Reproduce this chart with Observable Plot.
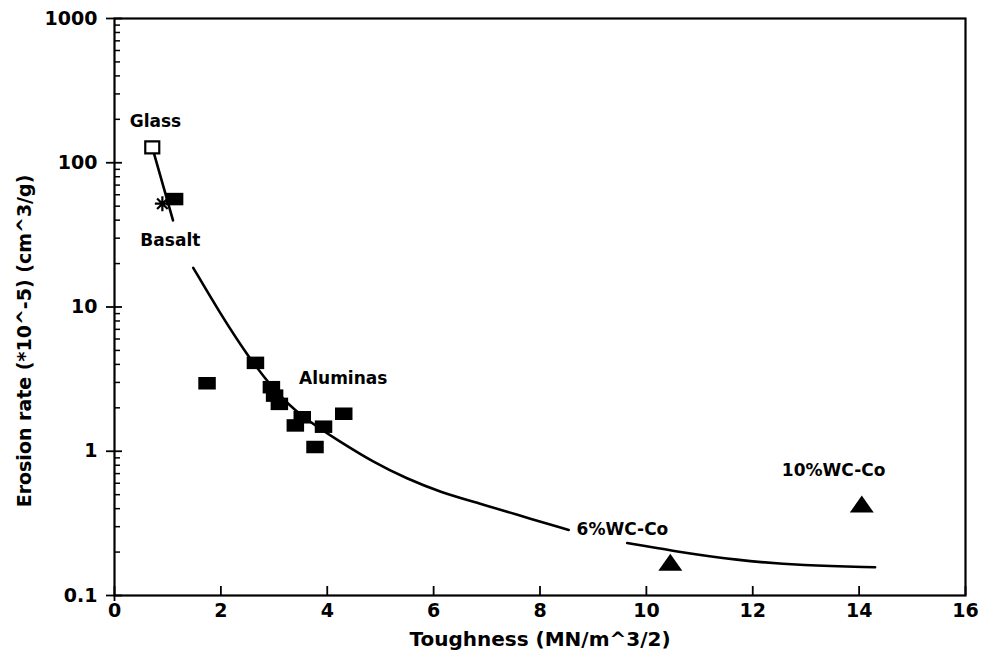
<!DOCTYPE html>
<html>
<head>
<meta charset="utf-8">
<script src="https://cdn.jsdelivr.net/npm/d3@7"></script>
<script src="https://cdn.jsdelivr.net/npm/@observablehq/plot@0.6"></script>
<style>
  html, body { margin: 0; padding: 0; background: #fff; }
</style>
</head>
<body>
<div id="chart"></div>
<script>
// ---- data ----
const glassX = [0.71];
const glassY = [128];
const basaltX = [0.90];
const basaltY = [52];
const filledX = [1.13, 1.74, 2.65, 2.95, 3.01, 3.10, 3.53, 3.40, 3.93, 4.31, 3.77];
const filledY = [56, 2.96, 4.1, 2.78, 2.43, 2.13, 1.72, 1.51, 1.48, 1.82, 1.07];
const wcX = [10.45, 14.05];
const wcY = [0.17, 0.43];

const curveX = [0.71, 1.10,
                1.48, 1.99, 2.52, 3.00, 3.50, 4.25, 4.87, 5.50, 6.13, 6.88, 7.51, 8.54,
                9.64, 10.45, 11.70, 12.96, 14.30];
const curveY = [128, 39.8,
                18.7, 8.97, 4.49, 2.65, 1.75, 1.16, 0.84, 0.644, 0.520, 0.433, 0.368, 0.285,
                0.231, 0.205, 0.175, 0.161, 0.157];
const curveSeg = ["a", "a",
                  "b", "b", "b", "b", "b", "b", "b", "b", "b", "b", "b", "b",
                  "c", "c", "c", "c", "c"];

const labelText = ["Glass", "Basalt", "Aluminas", "6%WC-Co", "10%WC-Co"];
const labelX = [0.77, 1.05, 4.30, 9.55, 13.52];
const labelY = [193, 28.9, 3.19, 0.287, 0.735];

const xTicks = [0, 2, 4, 6, 8, 10, 12, 14, 16];
const xTickLabels = ["0", "2", "4", "6", "8", "10", "12", "14", "16"];
const yMajor = [0.1, 1, 10, 100, 1000];
const yTickLabels = ["0.1", "1", "10", "100", "1000"];
const yMinor = [];
for (const dec of [0.1, 1, 10, 100]) for (const m of [2,3,4,5,6,7,8,9]) yMinor.push(+(dec * m).toPrecision(3));

const xTitle = "Toughness (MN/m^3/2)";
const yTitle = "Erosion rate (*10^-5) (cm^3/g)";

// ---- tables ----
const curve = curveX.map((x, i) => ({x, y: curveY[i], seg: curveSeg[i]}));
const glass = glassX.map((x, i) => ({x, y: glassY[i]}));
const basalt = basaltX.map((x, i) => ({x, y: basaltY[i]}));
const filled = filledX.map((x, i) => ({x, y: filledY[i]}));
const wc = wcX.map((x, i) => ({x, y: wcY[i]}));
const labels = labelText.map((t, i) => ({t, x: labelX[i], y: labelY[i]}));

// ---- custom symbols ----
const rad = s => Math.sqrt(s / Math.PI);
const wideRect = {draw(c, s) { const r = rad(s); c.rect(-1.75 * r, -1.25 * r, 3.5 * r, 2.5 * r); }};
const openRect = {draw(c, s) { const r = rad(s); c.rect(-1.4 * r, -1.2 * r, 2.8 * r, 2.4 * r); }};
const tri = {draw(c, s) { const r = rad(s); c.moveTo(0, -1.7 * r); c.lineTo(2.4 * r, 1.7 * r); c.lineTo(-2.4 * r, 1.7 * r); c.closePath(); }};
const star8 = {draw(c, s) {
  const r = rad(s) * 1.5;
  for (const a of [0, 45, 90, 135]) {
    const t = a * Math.PI / 180, dx = Math.cos(t) * r, dy = Math.sin(t) * r;
    c.moveTo(-dx, -dy); c.lineTo(dx, dy);
  }
}};

const font = "'DejaVu Sans', sans-serif";

const chart = Plot.plot({
  width: 987,
  height: 659,
  marginLeft: 114,
  marginRight: 22,
  marginTop: 18,
  marginBottom: 64,
  style: {fontFamily: font, fontWeight: "bold", fontSize: "19px", color: "#000", background: "#fff", overflow: "visible"},
  x: {domain: [0, 16], label: null},
  y: {type: "log", domain: [0.1, 1000], label: null},
  marks: [
    // ticks
    Plot.axisX({ticks: xTicks, tickSize: 9, dy: -9, tickFormat: () => "", label: null, strokeWidth: 1.8}),
    Plot.axisX({ticks: [0], tickSize: 6, tickFormat: () => "", label: null, strokeWidth: 1.8}),
    Plot.axisX({ticks: xTicks, tickSize: 0, tickPadding: 8, tickFormat: d => xTickLabels[xTicks.indexOf(d)], label: null, fontSize: 19}),
    Plot.axisY({ticks: yMajor, tickSize: 16, dx: 8, tickFormat: () => "", label: null, strokeWidth: 1.8}),
    Plot.axisY({ticks: yMinor, tickSize: 6, dx: 6, tickFormat: () => "", label: null, strokeWidth: 1.5}),
    Plot.axisY({ticks: yMajor, tickSize: 0, tickPadding: 17, tickFormat: d => yTickLabels[yMajor.indexOf(d)], label: null, fontSize: 19}),
    Plot.frame({stroke: "#000", strokeWidth: 2.2}),
    // fitted curve
    Plot.line(curve, {x: "x", y: "y", z: "seg", stroke: "#000", strokeWidth: 2.6, curve: "basis"}),
    // points
    Plot.dot(filled, {x: "x", y: "y", r: 5, symbol: wideRect, fill: "#000", stroke: "none"}),
    Plot.dot(glass, {x: "x", y: "y", r: 5, symbol: openRect, fill: "#fff", stroke: "#000", strokeWidth: 2.2}),
    Plot.dot(basalt, {x: "x", y: "y", r: 5, symbol: star8, fill: "none", stroke: "#000", strokeWidth: 2.2}),
    Plot.dot(wc, {x: "x", y: "y", r: 5, symbol: tri, fill: "#000", stroke: "none"}),
    // labels
    Plot.text(labels, {x: "x", y: "y", text: "t", fontSize: 17, fontWeight: "bold", fill: "#000"}),
    // axis titles
    Plot.text([xTitle], {text: d => d, frameAnchor: "bottom", dy: 50, fontSize: 20, fontWeight: "bold"}),
    Plot.text([yTitle], {text: d => d, frameAnchor: "left", textAnchor: "middle", dx: -90, dy: 34, rotate: -90, fontSize: 19, fontWeight: "bold"})
  ]
});
document.getElementById("chart").appendChild(chart);
</script>
</body>
</html>
